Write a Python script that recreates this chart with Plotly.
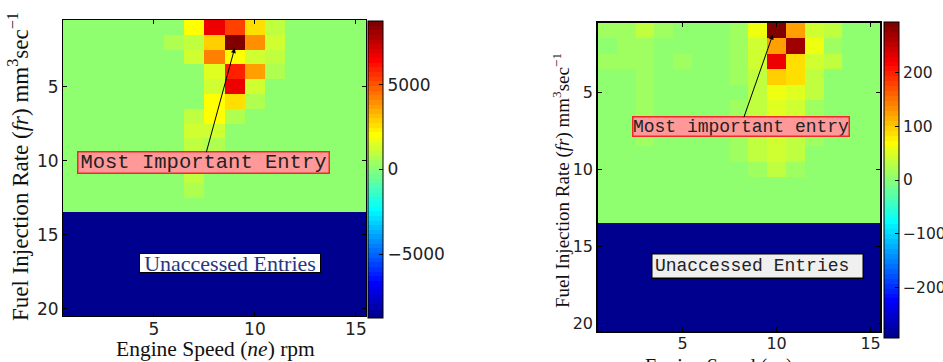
import plotly.graph_objects as go

# ---------------- data ----------------
speed_idx = list(range(1, 16))      # Engine speed bins (columns)
fuel_idx = list(range(1, 21))       # Fuel injection rate bins (rows)

# Left map: accessed rows 1..13 (values), rows 14..20 unaccessed
left_rows = [
    [0, 0, 0, 0, 0, 0, 2050, 6800, 5300, 2600, 950, 0, 0, 0, 0],
    [0, 0, 0, 0, 0, 680, 950, 3000, 8750, 3950, 1230, 0, 0, 0, 0],
    [0, 0, 0, 0, 0, 0, 1230, 4250, 2050, 1230, 950, 0, 0, 0, 0],
    [0, 0, 0, 0, 0, 0, 0, 1500, 5900, 3700, 680, 0, 0, 0, 0],
    [0, 0, 0, 0, 0, 0, 0, 1230, 6700, 1230, 0, 0, 0, 0, 0],
    [0, 0, 0, 0, 0, 0, 0, 2050, 2600, 680, 0, 0, 0, 0, 0],
    [0, 0, 0, 0, 0, 0, 950, 2050, 680, 0, 0, 0, 0, 0, 0],
    [0, 0, 0, 0, 0, 0, 1230, 1230, 0, 0, 0, 0, 0, 0, 0],
    [0, 0, 0, 0, 0, 0, 950, 680, 0, 0, 0, 0, 0, 0, 0],
    [0, 0, 0, 0, 0, 0, 950, 0, 0, 0, 0, 0, 0, 0, 0],
    [0, 0, 0, 0, 0, 0, 950, 0, 0, 0, 0, 0, 0, 0, 0],
    [0, 0, 0, 0, 0, 0, 680, 0, 0, 0, 0, 0, 0, 0, 0],
    [0, 0, 0, 0, 0, 0, 0, 0, 0, 0, 0, 0, 0, 0, 0],
]
left_unaccessed = -8750
left_zmin, left_zmax = -8750, 8750

# Right map
right_rows = [
    [10, 10, 28, 10, 0, 0, 0, 18, 64, 295, 120, 46, 28, 0, 0],
    [0, 10, 10, 0, 0, 0, 0, 18, 37, 120, 272, 64, 10, 0, 0],
    [10, 10, 10, 0, 10, 0, 0, 10, 37, 230, 83, 37, 28, 0, 0],
    [0, 0, 10, 0, 0, 0, 0, 10, 28, 101, 83, 28, 0, 0, 0],
    [0, 0, 10, 0, 0, 0, 0, 0, 28, 64, 55, 28, 0, 0, 0],
    [0, 0, 10, 0, 0, 0, 0, 10, 28, 55, 37, 18, 0, 0, 0],
    [0, 0, 10, 0, 0, 0, 0, 10, 28, 55, 37, 18, 0, 0, 0],
    [0, 0, 10, 0, 0, 0, 0, 10, 28, 46, 28, 18, 0, 0, 0],
    [0, 0, 0, 0, 0, 0, 0, 18, 28, 37, 28, 0, 0, 0, 0],
    [0, 0, 0, 0, 0, 0, 0, 0, 18, 28, 18, 0, 0, 0, 0],
    [0, 0, 0, 0, 0, 0, 0, 0, 0, 0, 0, 0, 0, 0, 0],
    [0, 0, 0, 0, 0, 0, 0, 0, 0, 0, 0, 0, 0, 0, 0],
    [0, 0, 0, 0, 0, 0, 0, 0, 0, 0, 0, 0, 0, 0, 0],
]
right_unaccessed = -295
right_zmin, right_zmax = -295, 295

x_ticks = [5, 10, 15]
y_ticks = [5, 10, 15, 20]
left_cbar_ticks = [-5000, 0, 5000]
right_cbar_ticks = [-200, -100, 0, 100, 200]


# ---------------- styling helpers ----------------
def matlab_jet(n=64):
    cols = []
    for k in range(1, n + 1):
        if k <= 8:
            r, g, b = 0, 0, (k + 8) / 16
        elif k <= 24:
            r, g, b = 0, (k - 8) / 16, 1
        elif k <= 40:
            r, g, b = (k - 24) / 16, 1, (40 - k) / 16
        elif k <= 56:
            r, g, b = 1, (56 - k) / 16, 0
        else:
            r, g, b = (72 - k) / 16, 0, 0
        cols.append("rgb(%d,%d,%d)" % (round(r * 255), round(g * 255), round(b * 255)))
    cs = []
    for i, c in enumerate(cols):
        cs.append([i / n, c])
        cs.append([(i + 1) / n, c])
    return cs


JET = matlab_jet()


def full_matrix(rows, fill):
    z = [list(r) for r in rows]
    while len(z) < len(fuel_idx):
        z.append([fill] * len(speed_idx))
    return z


W, H = 943, 362


def px(v):
    return v / W


def py(v):
    return 1 - v / H


fig = go.Figure()

fig.add_trace(go.Heatmap(
    z=full_matrix(left_rows, left_unaccessed), x=speed_idx, y=fuel_idx,
    zmin=left_zmin, zmax=left_zmax, colorscale=JET,
    xaxis="x", yaxis="y",
    colorbar=dict(
        x=px(368), xanchor="left", xpad=0, ypad=0,
        y=py(169.5), yanchor="middle", len=(318 - 21) / H, lenmode="fraction",
        thickness=15, outlinecolor="black", outlinewidth=1,
        tickvals=left_cbar_ticks, ticks="inside", ticklen=4, tickcolor="black",
        tickfont=dict(family="DejaVu Sans", size=17, color="#222"),
    ),
))

fig.add_trace(go.Heatmap(
    z=full_matrix(right_rows, right_unaccessed), x=speed_idx, y=fuel_idx,
    zmin=right_zmin, zmax=right_zmax, colorscale=JET,
    xaxis="x2", yaxis="y2",
    colorbar=dict(
        x=px(884), xanchor="left", xpad=0, ypad=0,
        y=py(180), yanchor="middle", len=(338 - 22) / H, lenmode="fraction",
        thickness=15, outlinecolor="black", outlinewidth=1,
        tickvals=right_cbar_ticks, ticks="inside", ticklen=4, tickcolor="black",
        tickfont=dict(family="DejaVu Sans", size=15.5, color="#222"),
    ),
))

axis_common = dict(
    showgrid=False, zeroline=False, showline=True, linecolor="black",
    mirror="allticks", ticks="inside", ticklen=4, tickcolor="black",
    automargin=False,
)

fig.update_layout(
    width=W, height=H,
    margin=dict(l=0, r=0, t=0, b=0, autoexpand=False),
    paper_bgcolor="white", plot_bgcolor="white",
    showlegend=False,
    xaxis=dict(domain=[px(63), px(366)], range=[0.5, 15.5], tickvals=x_ticks,
               anchor="y", linewidth=1, ticklabelstandoff=-2,
               tickfont=dict(family="DejaVu Sans", size=17, color="#222"), **axis_common),
    yaxis=dict(domain=[py(316), py(20)], range=[20.5, 0.5], tickvals=y_ticks,
               anchor="x", linewidth=1,
               tickfont=dict(family="DejaVu Sans", size=17, color="#222"), **axis_common),
    xaxis2=dict(domain=[px(598), px(880)], range=[0.5, 15.5], tickvals=x_ticks,
                anchor="y2", linewidth=1.5, ticklabelstandoff=-3,
                tickfont=dict(family="DejaVu Sans", size=16, color="#222"), **axis_common),
    yaxis2=dict(domain=[py(331), py(23)], range=[20.5, 0.5], tickvals=y_ticks,
                anchor="x2", linewidth=1.5,
                tickfont=dict(family="DejaVu Sans", size=16, color="#222"), **axis_common),
)

serif = "Liberation Serif"
mono = "Liberation Mono"
ytitle = "Fuel Injection Rate (<i>fr</i>) mm<sup>3</sup>sec<sup>\u22121</sup>"
xtitle = "Engine Speed (<i>ne</i>) rpm"

annotations = [
    # axis titles
    dict(text=ytitle, x=px(18), y=py(167), xref="paper", yref="paper", textangle=-90,
         showarrow=False, xanchor="center", yanchor="middle",
         font=dict(family=serif, size=23, color="#111")),
    dict(text=xtitle, x=px(215.5), y=py(349), xref="paper", yref="paper",
         showarrow=False, xanchor="center", yanchor="middle",
         font=dict(family=serif, size=21.5, color="#111")),
    dict(text=ytitle, x=px(561), y=py(181), xref="paper", yref="paper", textangle=-90,
         showarrow=False, xanchor="center", yanchor="middle",
         font=dict(family=serif, size=19, color="#111")),
    dict(text=xtitle, x=px(737), y=py(366), xref="paper", yref="paper",
         showarrow=False, xanchor="center", yanchor="middle",
         font=dict(family=serif, size=20, color="#111")),
    # left panel labels
    dict(text="Most Important Entry", x=9, y=2.4, xref="x", yref="y",
         ax=7.45, ay=10.16, axref="x", ayref="y",
         showarrow=True, arrowhead=2, arrowsize=1, arrowwidth=1, arrowcolor="black",
         bgcolor="rgb(255,153,153)", bordercolor="rgb(240,40,40)", borderwidth=1.5,
         borderpad=0, width=250, height=20,
         font=dict(family=mono, size=20.5, color="#222")),
    dict(text="Unaccessed Entries", x=8.75, y=16.9, xref="x", yref="y",
         showarrow=False, bgcolor="white", bordercolor="black", borderwidth=1,
         borderpad=0, width=180, height=18,
         font=dict(family=serif, size=22, color="rgb(40,55,130)")),
    # right panel labels
    dict(text="Most important entry", x=9.8, y=1.25, xref="x2", yref="y2",
         ax=8.08, ay=7.25, axref="x2", ayref="y2",
         showarrow=True, arrowhead=2, arrowsize=1, arrowwidth=1, arrowcolor="black",
         bgcolor="rgb(255,153,153)", bordercolor="rgb(240,40,40)", borderwidth=1.5,
         borderpad=0, width=215, height=18,
         font=dict(family=mono, size=18, color="#222")),
    dict(text="Unaccessed Entries&nbsp;", x=9.01, y=16.25, xref="x2", yref="y2",
         showarrow=False, bgcolor="rgb(240,240,240)", bordercolor="black", borderwidth=1.5,
         borderpad=0, width=210, height=23,
         font=dict(family=mono, size=18, color="#222")),
]
fig.update_layout(annotations=annotations)

fig.write_html(
    "out.html",
    config={"displayModeBar": False},
    post_script="document.body.style.margin='0px';document.body.style.overflow='hidden';",
)
